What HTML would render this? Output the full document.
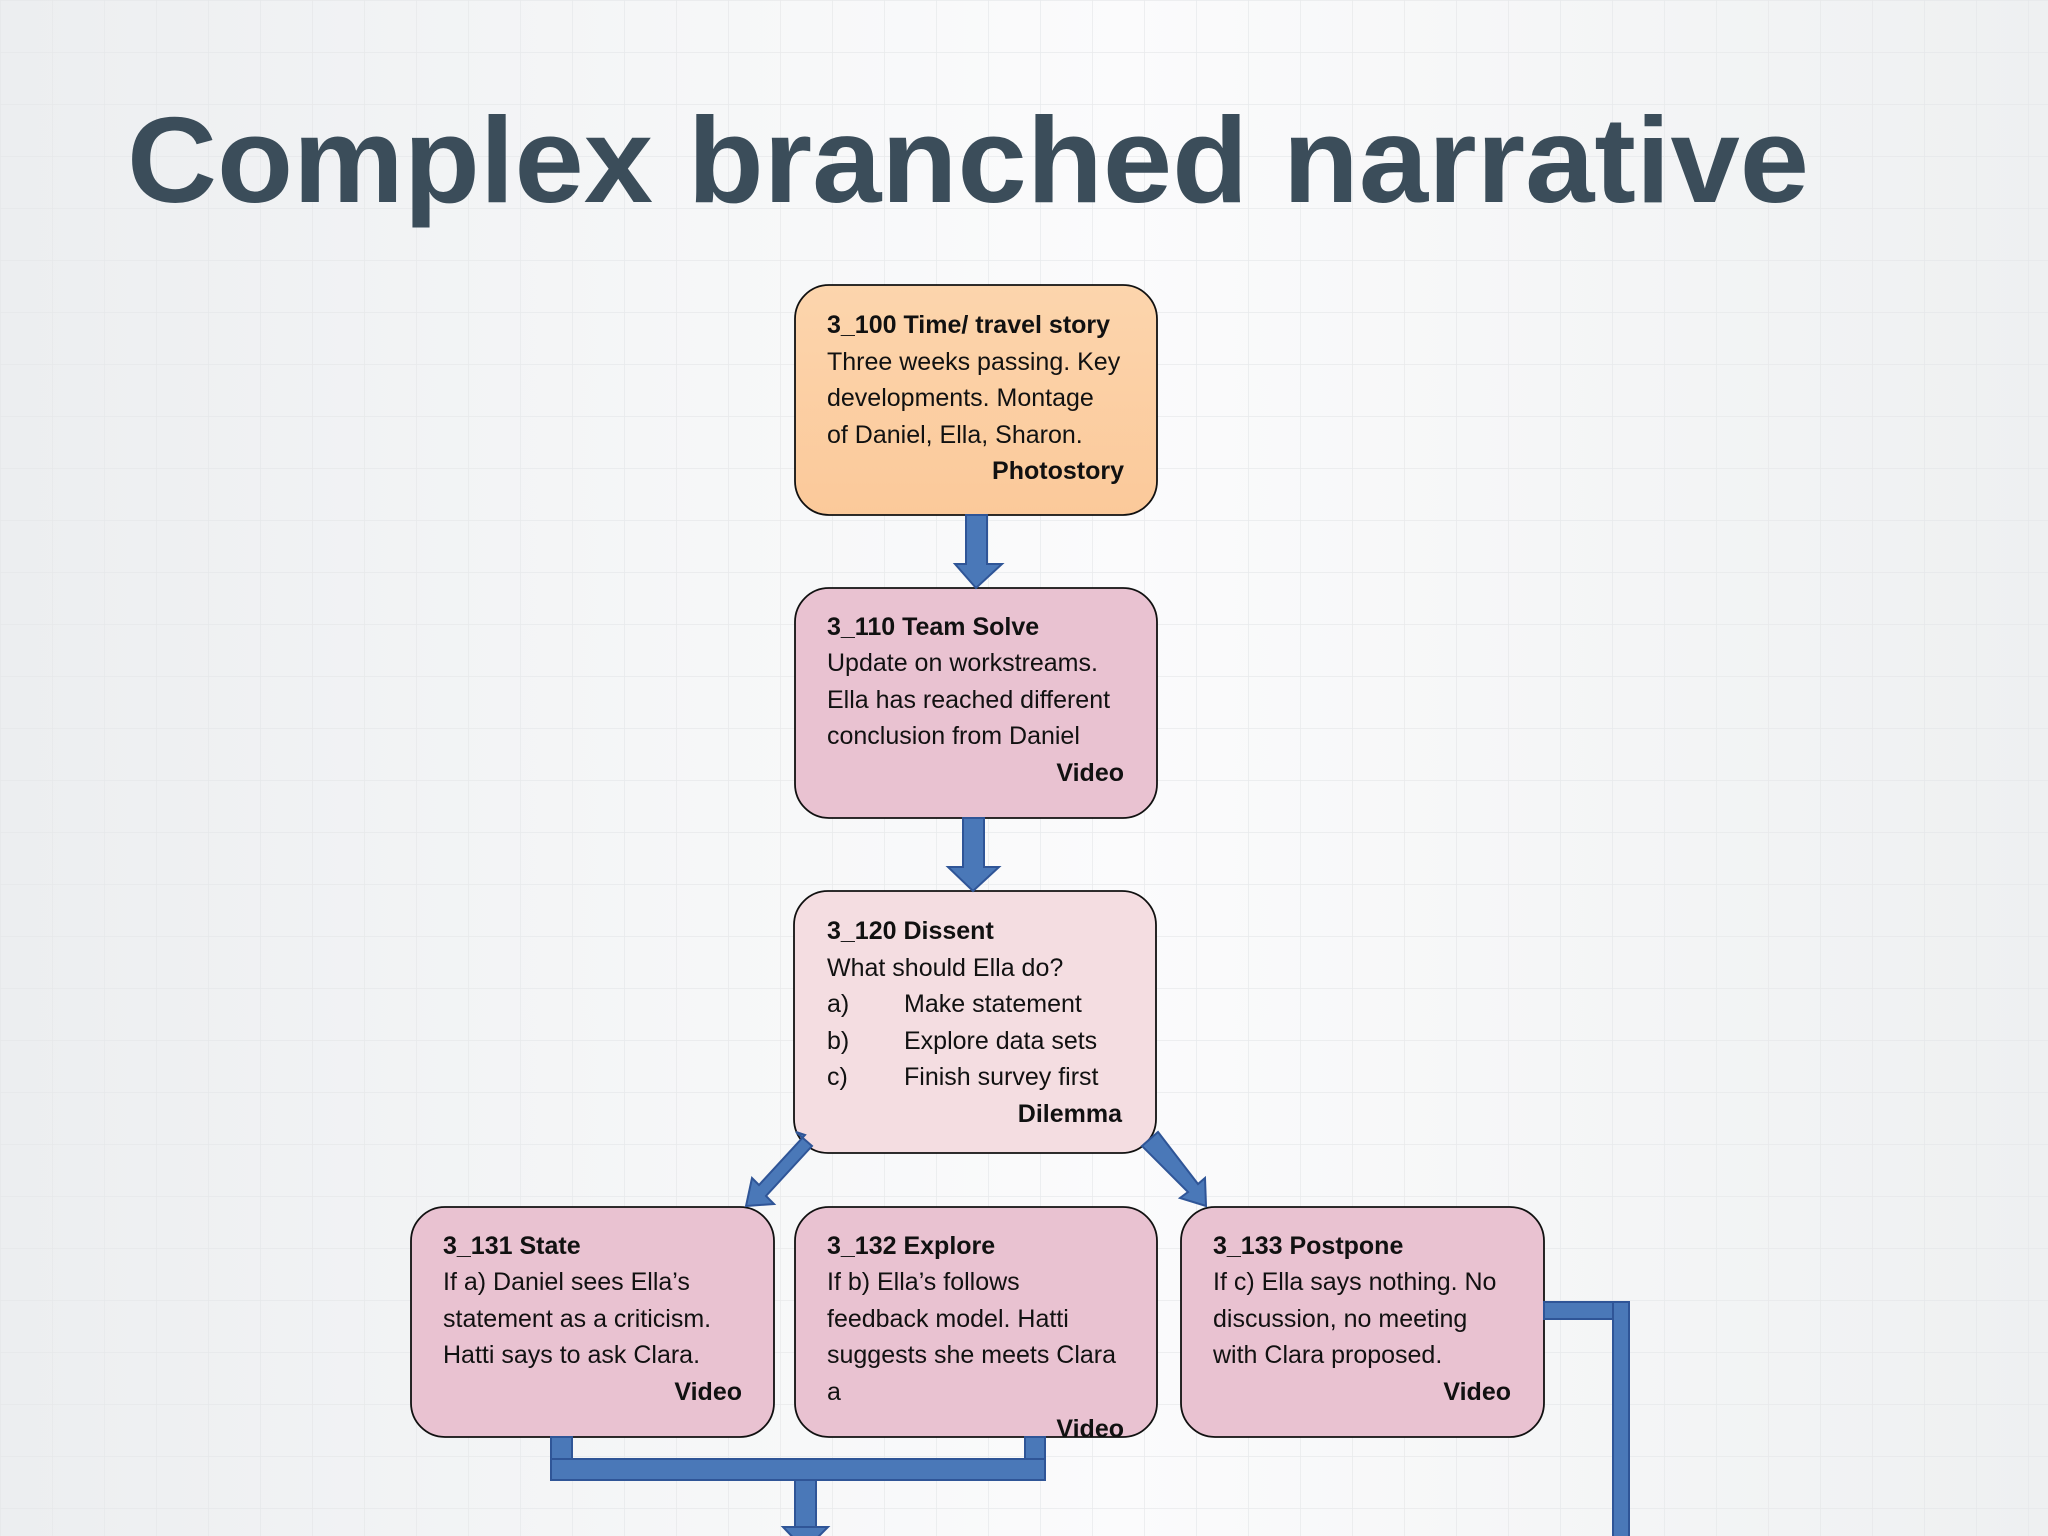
<!DOCTYPE html>
<html><head><meta charset="utf-8"><style>
html,body{margin:0;padding:0;width:2048px;height:1536px;overflow:hidden;background:#f1f2f3;}
svg{display:block}
text{font-family:"Liberation Sans",sans-serif;fill:#111;}
</style></head><body>
<svg width="2048" height="1536" viewBox="0 0 2048 1536" xmlns="http://www.w3.org/2000/svg">
<defs>
<pattern id="g" width="52" height="52" patternUnits="userSpaceOnUse"><path d="M52 0H0V52" fill="none" stroke="#e4e6e8" stroke-width="1.5"/></pattern>
<linearGradient id="bg" x1="0" x2="1"><stop offset="0" stop-color="#eceef0"/><stop offset="0.35" stop-color="#f6f7f8"/><stop offset="0.55" stop-color="#fbfbfc"/><stop offset="1" stop-color="#eef0f1"/></linearGradient>
<linearGradient id="peach" x1="0" y1="0" x2="0" y2="1"><stop offset="0" stop-color="#fcd5ad"/><stop offset="1" stop-color="#fbc99a"/></linearGradient>
</defs>
<rect width="2048" height="1536" fill="url(#bg)"/>
<rect width="2048" height="1536" fill="url(#g)" opacity="0.8"/>
<text x="127" y="202" font-size="122" font-weight="bold" style="fill:#3b4d5a" textLength="1682" lengthAdjust="spacingAndGlyphs">Complex branched narrative</text>

<g stroke="#111" stroke-width="1.8">
<rect x="795" y="285" width="362" height="230" rx="34" fill="url(#peach)"/>
<rect x="795" y="588" width="362" height="230" rx="34" fill="#e9c2d1"/>
<rect x="794" y="891" width="362" height="262" rx="34" fill="#f4dde1"/>
<rect x="411" y="1207" width="363" height="230" rx="34" fill="#e9c2d1"/>
<rect x="795" y="1207" width="362" height="230" rx="34" fill="#e9c2d1"/>
<rect x="1181" y="1207" width="363" height="230" rx="34" fill="#e9c2d1"/>
</g>

<g fill="#4a78b8" stroke="#2f5597" stroke-width="2">
<polygon points="966,515 987,515 987,564 1002,564 976,588 955,564 966,564"/>
<polygon points="963,818 984,818 984,867 999,867 973,891 948,867 963,867"/>
<polygon points="796,1132 812,1146 766,1196 774,1204 746,1206 752,1178 759,1185 805,1135"/>
<polygon points="1142,1146 1158,1132 1198,1184 1205,1178 1206,1206 1180,1198 1188,1192"/>
<rect x="551" y="1437" width="21" height="43"/>
<rect x="1025" y="1437" width="20" height="43"/>
<rect x="551" y="1459" width="494" height="21"/>
<rect x="795" y="1480" width="21" height="60"/>
<polygon points="783,1527 828,1527 805,1550"/>
<rect x="1544" y="1302" width="84" height="17"/>
<rect x="1613" y="1302" width="16" height="240"/>
</g>

<g font-size="25">
<text x="827" y="333" font-weight="bold">3_100 Time/ travel story</text>
<text x="827" y="370">Three weeks passing. Key</text>
<text x="827" y="406">developments. Montage</text>
<text x="827" y="443">of Daniel, Ella, Sharon.</text>
<text x="1124" y="479" font-weight="bold" text-anchor="end">Photostory</text>

<text x="827" y="635" font-weight="bold">3_110 Team Solve</text>
<text x="827" y="671">Update on workstreams.</text>
<text x="827" y="708">Ella has reached different</text>
<text x="827" y="744">conclusion from Daniel</text>
<text x="1124" y="781" font-weight="bold" text-anchor="end">Video</text>

<text x="827" y="939" font-weight="bold">3_120 Dissent</text>
<text x="827" y="976">What should Ella do?</text>
<text x="827" y="1012">a)</text><text x="904" y="1012">Make statement</text>
<text x="827" y="1049">b)</text><text x="904" y="1049">Explore data sets</text>
<text x="827" y="1085">c)</text><text x="904" y="1085">Finish survey first</text>
<text x="1122" y="1122" font-weight="bold" text-anchor="end">Dilemma</text>

<text x="443" y="1254" font-weight="bold">3_131 State</text>
<text x="443" y="1290">If a) Daniel sees Ella’s</text>
<text x="443" y="1327">statement as a criticism.</text>
<text x="443" y="1363">Hatti says to ask Clara.</text>
<text x="742" y="1400" font-weight="bold" text-anchor="end">Video</text>

<text x="827" y="1254" font-weight="bold">3_132 Explore</text>
<text x="827" y="1290">If b) Ella’s follows</text>
<text x="827" y="1327">feedback model. Hatti</text>
<text x="827" y="1363">suggests she meets Clara</text>
<text x="827" y="1400">a</text>
<text x="1124" y="1437" font-weight="bold" text-anchor="end">Video</text>

<text x="1213" y="1254" font-weight="bold">3_133 Postpone</text>
<text x="1213" y="1290">If c) Ella says nothing. No</text>
<text x="1213" y="1327">discussion, no meeting</text>
<text x="1213" y="1363">with Clara proposed.</text>
<text x="1511" y="1400" font-weight="bold" text-anchor="end">Video</text>
</g>
</svg>
</body></html>
